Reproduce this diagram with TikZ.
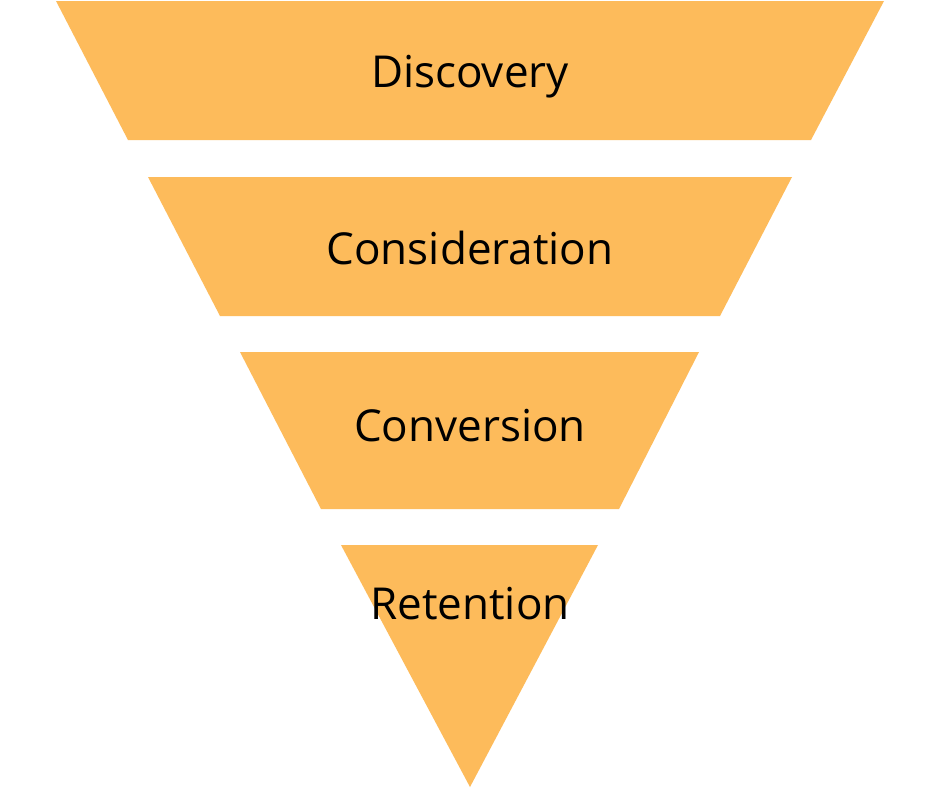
\documentclass[tikz,border=0pt]{standalone}
\usepackage{fontspec}
\setmainfont{Open Sans}
\definecolor{funnel}{HTML}{FDBB5B}
\begin{document}
\begin{tikzpicture}[x=1pt,y=-1pt,
  stage/.style={fill=funnel,draw=none},
  lbl/.style={font=\fontsize{44}{48}\selectfont,text=black,anchor=base}]
\useasboundingbox (0,0) rectangle (940,788);
\fill[white] (0,0) rectangle (940,788);
\path[stage] (56,1) -- (884,1) -- (811,140) -- (128,140) -- cycle;
\path[stage] (148,177) -- (792,177) -- (720,316) -- (220,316) -- cycle;
\path[stage] (240,352) -- (699,352) -- (619,509) -- (321,509) -- cycle;
\path[stage] (341,545) -- (598,545) -- (470,787) -- cycle;
\node[lbl] (d) at (470,87) {Discovery};
\node[lbl] (c1) at (470,264) {Consideration};
\node[lbl] (c2) at (470,441) {Conversion};
\node[lbl] (r) at (470,619) {Retention};
\end{tikzpicture}
\end{document}
